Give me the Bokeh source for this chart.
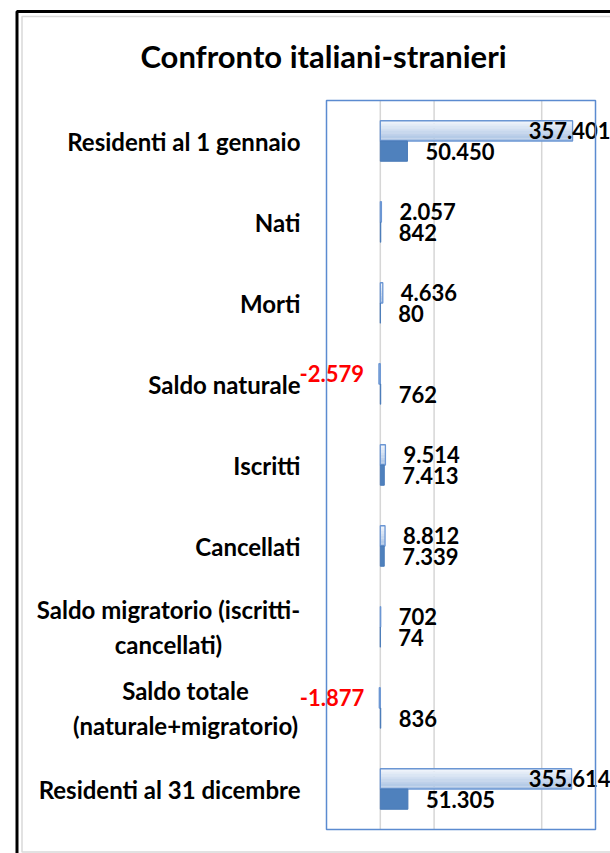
from bokeh.plotting import figure
from bokeh.models import ColumnDataSource, BoxAnnotation, Label, Range1d
from bokeh.core.properties import value
from bokeh.transform import dodge
from bokeh.embed import file_html
from bokeh.resources import INLINE

# ---------------- data ----------------
categories = [
    "Residenti al 1 gennaio",
    "Nati",
    "Morti",
    "Saldo naturale",
    "Iscritti",
    "Cancellati",
    "Saldo migratorio (iscritti-\ncancellati)",
    "Saldo totale\n(naturale+migratorio)",
    "Residenti al 31 dicembre",
]
italiani = [357401, 2057, 4636, -2579, 9514, 8812, 702, -1877, 355614]
stranieri = [50450, 842, 80, 762, 7413, 7339, 74, 836, 51305]
grid_values = [0, 100000, 300000]
x_start, x_end = -100000, 400000
title_text = "Confronto italiani-stranieri"

# ---------------- layout / style constants (pixels) ----------------
W, H = 610, 853
BOX_L, BOX_R, BOX_T, BOX_B = 326, 595, 100, 829   # plot-area box on the page
FONT = "Lato"
BLUE = "#4f81bd"
BOX_BLUE = "#5b8bd0"
CAT_GAP = 26
# multi-line category labels are centred on their block (block width in px)
MULTI_BLOCK_W = {6: 264, 7: 230}
# gradient of the "italiani" bars, top -> bottom
GRAD_TOP = (238, 243, 250)
GRAD_BOT = (172, 196, 228)
GRAD_STEPS = 8

n = len(categories)
ppu = (BOX_R - BOX_L) / (x_end - x_start)          # px per unit (x)
bh = (BOX_B - BOX_T) / n                           # px per band (y)
xr = Range1d(x_start - BOX_L / ppu, x_end + (W - BOX_R) / ppu)
yr = Range1d(-0.5 - (H - BOX_B) / bh, n - 0.5 + BOX_T / bh)
ypos = [n - 1 - i for i in range(n)]


def fmt(v):
    return f"{v:,}".replace(",", ".")


def label_style(values, gap=18, neg_gap=15, char_w=12.5):
    aligns, offsets, colors = [], [], []
    right_px = W
    for v in values:
        end_px = BOX_L + (v - x_start) * ppu
        if v < 0:
            aligns.append("right"); offsets.append(-neg_gap); colors.append("#ff0000")
        else:
            w = len(fmt(v)) * char_w
            if end_px + gap + w > right_px:
                aligns.append("right"); offsets.append(right_px - end_px)
            else:
                aligns.append("left"); offsets.append(gap)
            colors.append("#000000")
    return aligns, offsets, colors


ia, io, ic = label_style(italiani)
sa, so, sc = label_style(stranieri)

cat_align, cat_off = [], []
for i, c in enumerate(categories):
    if i in MULTI_BLOCK_W:
        cat_align.append("center"); cat_off.append(-(CAT_GAP + MULTI_BLOCK_W[i] / 2))
    else:
        cat_align.append("right"); cat_off.append(-CAT_GAP)

src = ColumnDataSource(dict(
    cat=categories, y=ypos, ita=italiani, stra=stranieri,
    ita_lbl=[fmt(v) for v in italiani], stra_lbl=[fmt(v) for v in stranieri],
    ia=ia, io=io, ic=ic, sa=sa, so=so, sc=sc,
    cx=[x_start] * n, ca=cat_align, co=cat_off,
))
grid_src = ColumnDataSource(dict(x=grid_values, y0=[-0.5] * len(grid_values),
                                 y1=[n - 0.5] * len(grid_values)))

p = figure(width=W, height=H, x_range=xr, y_range=yr,
           x_axis_location=None, y_axis_location=None,
           output_backend="svg", toolbar_location=None,
           min_border=0, min_border_left=0, min_border_right=0,
           min_border_top=0, min_border_bottom=0)
p.outline_line_color = None
p.xgrid.visible = False
p.ygrid.visible = False
p.background_fill_color = "white"
p.border_fill_color = "white"

# outer chart-area frame (screen units, y measured from bottom)
p.add_layout(BoxAnnotation(left=16.5, right=W + 30, top=H - 11, bottom=-30,
                           left_units="screen", right_units="screen",
                           top_units="screen", bottom_units="screen",
                           fill_color=None, line_color="black", line_alpha=1.0,
                           line_width=3))
p.add_layout(BoxAnnotation(left=21.5, right=W + 30, top=H - 16, bottom=H - 851.5,
                           left_units="screen", right_units="screen",
                           top_units="screen", bottom_units="screen",
                           fill_color=None, line_color="#d9d9d9", line_alpha=1.0,
                           line_width=1.5))

# gridlines inside the plot box
p.segment(x0="x", y0="y0", x1="x", y1="y1", line_color="#d6d6d6", line_width=1.5,
          source=grid_src)

# "italiani" bars: vertical gradient built from thin strips, then the border
bar_h = 0.25
strip_h = bar_h / GRAD_STEPS
for k in range(GRAD_STEPS):
    t = k / (GRAD_STEPS - 1)
    col = "#%02x%02x%02x" % tuple(int(round(a + (b - a) * t)) for a, b in zip(GRAD_TOP, GRAD_BOT))
    off = bar_h - (k + 0.5) * strip_h
    p.hbar(y=dodge("y", off), left=0, right="ita", height=strip_h * 1.05,
           fill_color=col, line_color=None, source=src)
p.hbar(y=dodge("y", bar_h / 2), left=0, right="ita", height=bar_h,
       fill_color=None, line_color="#6b96d3", line_width=1.3, source=src)

# "stranieri" bars
p.hbar(y=dodge("y", -bar_h / 2), left=0, right="stra", height=bar_h,
       fill_color=BLUE, line_color="#4a7bb8", line_width=1, source=src)

# plot-area box
p.add_layout(BoxAnnotation(left=x_start, right=x_end, bottom=-0.5, top=n - 0.5,
                           fill_color=None, line_color=BOX_BLUE, line_alpha=1.0,
                           line_width=1.5))

# category labels
p.text(x="cx", y="y", text="cat", x_offset="co", text_align="ca",
       text_baseline="middle", text_font=value(FONT), text_font_style="bold",
       text_font_size="24px", text_color="black", text_line_height=1.2, source=src)

# value labels
p.text(x="ita", y=dodge("y", bar_h / 2), text="ita_lbl", x_offset="io", text_align="ia",
       text_color="ic", text_baseline="middle", text_font=value(FONT),
       text_font_style="bold", text_font_size="22px", source=src)
p.text(x="stra", y=dodge("y", -bar_h / 2), text="stra_lbl", x_offset="so", text_align="sa",
       text_color="sc", text_baseline="middle", text_font=value(FONT),
       text_font_style="bold", text_font_size="22px", source=src)

# title
p.add_layout(Label(x=323, y=H - 55, x_units="screen", y_units="screen", text=title_text,
                   text_align="center", text_baseline="middle", text_font=FONT,
                   text_font_style="bold", text_font_size="31px", text_color="black"))

open("out.html", "w").write(file_html(p, INLINE))
